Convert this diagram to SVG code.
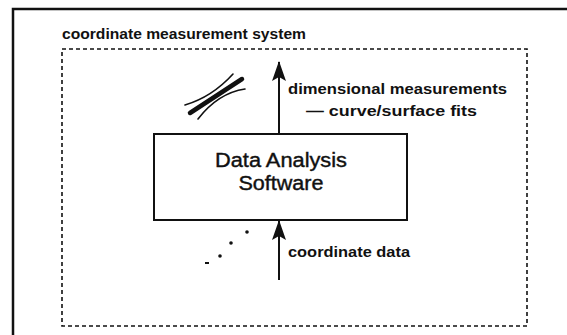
<svg xmlns="http://www.w3.org/2000/svg" width="567" height="335" viewBox="0 0 567 335">
<defs>
<style>
.lbl{font-family:"Liberation Sans",Arial,Helvetica,sans-serif;fill:#111;}
.b{font-weight:bold;}
.med{stroke:#111;stroke-width:0.4;}
.frame{fill:none;stroke:#111;stroke-width:2.5;}
.dash{fill:none;stroke:#111;stroke-width:1.6;stroke-dasharray:4 3;}
.box{fill:#fff;stroke:#111;stroke-width:2;}
.conn{stroke:#111;stroke-width:2;fill:none;}
.thin{stroke:#111;stroke-width:1.6;fill:none;stroke-linecap:round;}
</style>
<marker id="ah" viewBox="0 0 20 14" refX="19" refY="7" markerWidth="20" markerHeight="14" markerUnits="userSpaceOnUse" orient="auto">
<path d="M0,0 L20,7 L0,14 L4,7 Z" fill="#111"/>
</marker>
</defs>
<rect width="567" height="335" fill="#fff"/>
<g id="outer-frame">
<path class="frame" d="M13,335 L13,9 L567,9"/>
</g>
<g id="system">
<rect class="dash" x="62" y="49" width="465" height="277"/>
<text class="lbl b" x="62" y="39" font-size="15.5" textLength="244" lengthAdjust="spacingAndGlyphs">coordinate measurement system</text>
</g>
<g id="software">
<rect class="box" x="154" y="134" width="253" height="86"/>
<text class="lbl med" x="281" y="167" font-size="20" text-anchor="middle" textLength="132" lengthAdjust="spacingAndGlyphs">Data Analysis</text>
<text class="lbl med" x="281" y="190" font-size="20" text-anchor="middle" textLength="85" lengthAdjust="spacingAndGlyphs">Software</text>
</g>
<g id="fit-glyph">
<path d="M190,113 L242,79" stroke="#111" stroke-width="4.5" stroke-linecap="round" fill="none"/>
<path class="thin" d="M185,105 Q212,97 233,74"/>
<path class="thin" d="M198,119 Q218,93 245,89"/>
</g>
<g id="points">
<rect x="205" y="262" width="4" height="2" fill="#111"/>
<circle cx="220" cy="256" r="1.8" fill="#111"/>
<circle cx="231" cy="243" r="1.8" fill="#111"/>
<circle cx="247" cy="232" r="1.8" fill="#111"/>
</g>
<g id="connectors">
<line class="conn" x1="279" y1="134" x2="279" y2="62" marker-end="url(#ah)"/>
<line class="conn" x1="279" y1="280" x2="279" y2="221" marker-end="url(#ah)"/>
</g>
<g id="labels">
<text class="lbl b" x="288" y="94" font-size="15" textLength="219" lengthAdjust="spacingAndGlyphs">dimensional measurements</text>
<text class="lbl b" x="306" y="116" font-size="15" textLength="171" lengthAdjust="spacingAndGlyphs">— curve/surface fits</text>
<text class="lbl b" x="288" y="257" font-size="15" textLength="122" lengthAdjust="spacingAndGlyphs">coordinate data</text>
</g>
</svg>
